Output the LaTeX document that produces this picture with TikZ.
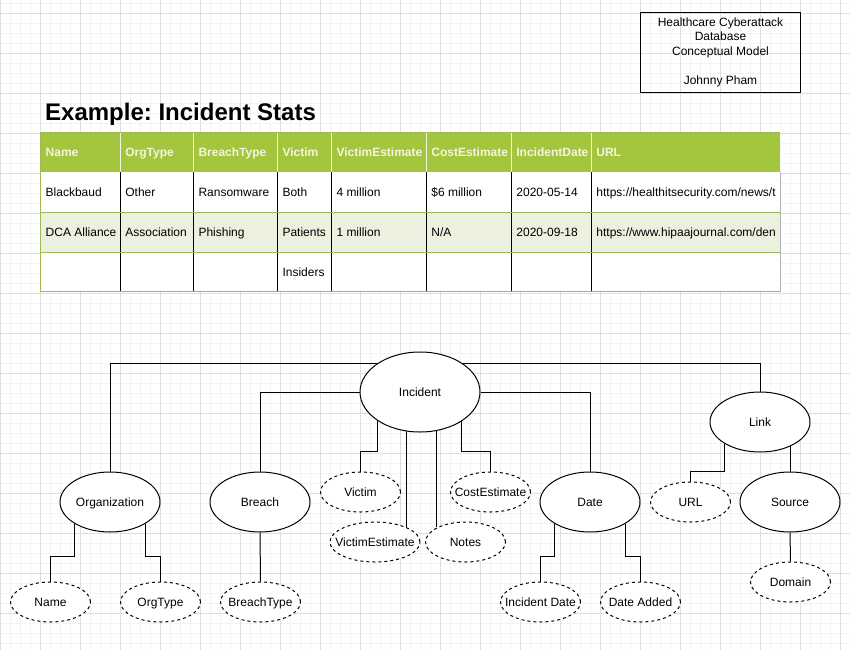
\documentclass[tikz,border=0pt]{standalone}
\usepackage{fontspec}
\setmainfont{Liberation Sans}
\usetikzlibrary{shapes.geometric}
\pgfdeclarelayer{bg}\pgfdeclarelayer{edges}
\pgfsetlayers{bg,edges,main}
\definecolor{hdr}{RGB}{164,198,62}
\definecolor{rowalt}{RGB}{235,241,222}
\definecolor{tborder}{RGB}{155,187,89}
\definecolor{hdrtext}{RGB}{245,245,220}
\definecolor{gridminor}{RGB}{243,243,243}
\definecolor{gridmajor}{RGB}{222,222,222}
\frenchspacing
\begin{document}
\begin{tikzpicture}[x=1pt,y=-1pt,
  entity/.style={ellipse,draw,fill=white,line width=1pt,minimum width=100pt,minimum height=60pt,inner sep=0pt,
     text height=8.6pt,text depth=0pt,font=\fontsize{12}{14}\selectfont},
  attr/.style={entity,dash pattern=on 3pt off 3pt,minimum width=80pt,minimum height=40pt},
  conn/.style={line width=1pt,black},
  cell/.style={anchor=base west,inner sep=0pt,font=\fontsize{12}{14}\selectfont},
  hcell/.style={cell,font=\fontsize{12}{14}\selectfont\bfseries,text=hdrtext},
]
\useasboundingbox (0,0) rectangle (850,650);
\begin{pgfonlayer}{bg}
\fill[white] (0,0) rectangle (850,650);
\foreach \i in {0,...,85} \draw[gridminor,line width=0.8pt] (\i*10,0) -- (\i*10,650);
\foreach \i in {0,...,65} \draw[gridminor,line width=0.8pt] (0,\i*10+3) -- (850,\i*10+3);
\foreach \i in {0,...,21} \draw[gridmajor,line width=0.8pt] (\i*40,0) -- (\i*40,650);
\foreach \i in {0,...,16} \draw[gridmajor,line width=0.8pt] (0,\i*40+13) -- (850,\i*40+13);
\end{pgfonlayer}

% title box
\node[draw,line width=1pt,minimum width=160pt,minimum height=80pt,inner sep=0pt,align=center,
  font=\fontsize{12}{14.5}\selectfont] (tbox) at (720.5,52.3)
  {Healthcare Cyberattack\\Database\\Conceptual Model\\\mbox{}\\Johnny Pham};

\node[anchor=base west,inner sep=0pt,font=\fontsize{24}{28}\selectfont\bfseries] (title) at (45,121) {Example: Incident Stats};

% table
\fill[hdr] (40,132.3) rectangle (780.3,172.3);
\fill[white] (40,172.3) rectangle (780.3,212.3);
\fill[rowalt] (40,212.3) rectangle (780.3,252);
\fill[white] (40,252) rectangle (780.3,291.7);
\foreach \x in {120.7,193.3,277.3,331.7,426.7,511.7,591.7} {
  \draw[hdrtext,line width=1pt] (\x,132.3) -- (\x,172.3);
  \draw[black,line width=1pt] (\x,172.3) -- (\x,291.7);
}
\draw[tborder,line width=1pt] (40,212.3) -- (780.3,212.3);
\draw[tborder,line width=1pt] (40,252) -- (780.3,252);
\draw[tborder,line width=1pt] (780.3,291.7) -- (40,291.7) -- (40,132.3) -- (780.3,132.3);
\draw[black!30,line width=1pt] (780.3,172.3) -- (780.3,291.7);

\node[hcell] (h1) at (45.5,156.3) {Name};
\node[hcell] (h2) at (125.2,156.3) {OrgType};
\node[hcell] (h3) at (198.3,156.3) {BreachType};
\node[hcell] (h4) at (282.3,156.3) {Victim};
\node[hcell] (h5) at (336.3,156.3) {VictimEstimate};
\node[hcell] (h6) at (431.2,156.3) {CostEstimate};
\node[hcell] (h7) at (516.2,156.3) {IncidentDate};
\node[hcell] (h8) at (596.2,156.3) {URL};

\node[cell] (a1) at (45.5,196.3) {Blackbaud};
\node[cell] (a2) at (125.2,196.3) {Other};
\node[cell] (a3) at (198.3,196.3) {Ransomware};
\node[cell] (a4) at (282.3,196.3) {Both};
\node[cell] (a5) at (336.3,196.3) {4 million};
\node[cell] (a6) at (431.2,196.3) {\$6 million};
\node[cell] (a7) at (516.2,196.3) {2020-05-14};

\node[cell] (b1) at (45.5,236.3) {DCA Alliance};
\node[cell] (b2) at (125.2,236.3) {Association};
\node[cell] (b3) at (198.3,236.3) {Phishing};
\node[cell] (b4) at (282.3,236.3) {Patients};
\node[cell] (b5) at (336.3,236.3) {1 million};
\node[cell] (b6) at (431.2,236.3) {N/A};
\node[cell] (b7) at (516.2,236.3) {2020-09-18};

\node[cell] (c4) at (282.3,276.3) {Insiders};

\begin{scope}
\clip (592.5,172.3) rectangle (779.8,252);
\node[cell] (a8) at (596.2,196.3) {https://healthitsecurity.com/news/t};
\node[cell] (b8) at (596.2,236.3) {https://www.hipaajournal.com/den};
\end{scope}

% ER diagram
\node[entity,minimum width=120pt,minimum height=80pt] (inc) at (420,392) {\makebox[0pt]{Incident}};
\node[entity] (org) at (110,502) {\makebox[0pt]{Organization}};
\node[entity] (breach) at (260,502) {\makebox[0pt]{Breach}};
\node[entity] (date) at (590,502) {\makebox[0pt]{Date}};
\node[entity] (link) at (760,422) {\makebox[0pt]{Link}};
\node[entity] (source) at (790,502) {\makebox[0pt]{Source}};

\node[attr] (name) at (50.5,602) {\makebox[0pt]{Name}};
\node[attr] (orgtype) at (160.5,602) {\makebox[0pt]{OrgType}};
\node[attr] (btype) at (260.5,602) {\makebox[0pt]{BreachType}};
\node[attr] (victim) at (360.5,492) {\makebox[0pt]{Victim}};
\node[attr,minimum width=90pt] (vest) at (375,542) {\makebox[0pt]{VictimEstimate}};
\node[attr] (cost) at (490.5,492) {\makebox[0pt]{CostEstimate}};
\node[attr] (notes) at (465.5,542) {\makebox[0pt]{Notes}};
\node[attr] (idate) at (540.5,602) {\makebox[0pt]{Incident Date}};
\node[attr] (dadded) at (640.5,602) {\makebox[0pt]{Date Added}};
\node[attr] (url) at (690.5,502) {\makebox[0pt]{URL}};
\node[attr] (domain) at (790.5,582) {\makebox[0pt]{Domain}};

\begin{pgfonlayer}{edges}
\draw[conn] (org.north) |- ([yshift=-12pt]inc.north) -| (link.north);
\draw[conn] (inc.west) -| (breach.north);
\draw[conn] (inc.east) -| (date.north);
\draw[conn] (inc.214.2) |- ([yshift=20pt]victim.north) -- (victim.north);
\draw[conn] (inc.325.8) |- ([yshift=20pt]cost.north) -- (cost.north);
\draw[conn] (inc.251.6) -- (inc.251.6 |- vest.23.7);
\draw[conn] (inc.293.9) -- (inc.293.9 |- notes.153);
\draw[conn] (org.211.5) |- ([yshift=25pt]name.north) -- (name.north);
\draw[conn] (org.328.5) |- ([yshift=25pt]orgtype.north) -- (orgtype.north);
\draw[conn] (breach.south) -- (btype.north);
\draw[conn] (date.211.5) |- ([yshift=25pt]idate.north) -- (idate.north);
\draw[conn] (date.328.5) |- ([yshift=25pt]dadded.north) -- (dadded.north);
\draw[conn] (link.211.5) |- ([yshift=10pt]url.north) -- (url.north);
\draw[conn] (link.322.4) -- (link.322.4 |- source.north);
\draw[conn] (source.south) -- (domain.north);
\end{pgfonlayer}
\end{tikzpicture}
\end{document}
